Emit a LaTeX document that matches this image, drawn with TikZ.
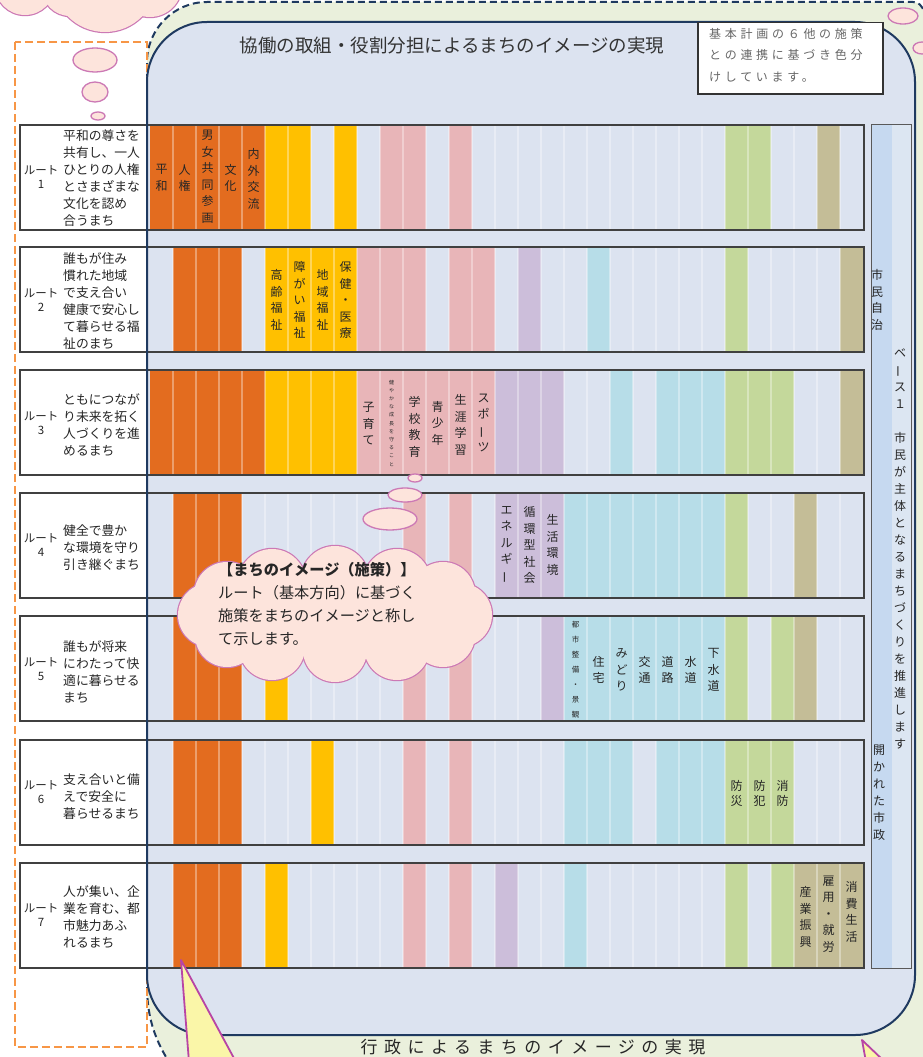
\documentclass[tikz,border=0pt]{standalone}
\usepackage{fontspec}
\newfontfamily\jp{Noto Sans CJK JP}
\definecolor{co}{HTML}{E36C1F}
\definecolor{cy}{HTML}{FFC000}
\definecolor{cp}{HTML}{E8B5B8}
\definecolor{cv}{HTML}{CCBEDA}
\definecolor{cb}{HTML}{B7DDE8}
\definecolor{cg}{HTML}{C4D89B}
\definecolor{ct}{HTML}{C4BD97}
\definecolor{innerbg}{HTML}{DCE3F0}
\definecolor{outerbg}{HTML}{EAF0DC}
\definecolor{navy}{HTML}{1F3A60}
\definecolor{cloudfill}{HTML}{FDE4DC}
\definecolor{cloudline}{HTML}{CC79B5}
\definecolor{callfill}{HTML}{FAF6A8}
\definecolor{callline}{HTML}{B845A5}
\definecolor{dashor}{HTML}{F79646}
\definecolor{basel}{HTML}{C6D9F0}
\definecolor{baser}{HTML}{DCE6F2}
\definecolor{txt}{HTML}{262626}
\newcommand\vbar{\rotatebox[origin=c]{90}{ー}}
\newcommand\rowstripes[2]{\foreach \c/\k in {#2}{\fill[\k] ({150+23*\c},#1) rectangle ({173+23*\c},{#1+105});}}
\newcommand\rowframe[1]{%
  \foreach \i in {1,...,30}{\draw[sepline] ({150+23*\i},#1) -- ({150+23*\i},{#1+105});}
  \draw[rowline] (20,#1) rectangle (864,{#1+105});}
\begin{document}
\begin{tikzpicture}[x=1pt,y=-1pt,
  rowline/.style={draw=black!75,line width=1.3pt},
  sepline/.style={draw=white,opacity=0.35,line width=1.2pt},
  vt/.style={align=center,inner sep=0pt,text=txt,font=\jp\fontsize{12}{16.5}\selectfont},
  vtsmall/.style={align=center,inner sep=0pt,text=txt,font=\jp\fontsize{7.5}{15}\selectfont},
  vttiny/.style={align=center,inner sep=0pt,text=txt,font=\jp\fontsize{5}{8.2}\selectfont},
  lefttext/.style={align=left,inner sep=0pt,text=txt,anchor=west,font=\jp\fontsize{12.8}{17}\selectfont},
  routelab/.style={align=center,inner sep=0pt,text=txt,font=\jp\fontsize{11.5}{14}\selectfont},
  cloudborder/.style={draw=cloudline,line width=2.4pt},
  cloudbody/.style={fill=cloudfill},
  callout/.style={fill=callfill,draw=callline,line width=1.8pt,line join=round}]
\useasboundingbox (0,0) rectangle (923,1057);
\clip (0,0) rectangle (923,1057);
\fill[white] (0,0) rectangle (923,1057);
% outer region
\fill[outerbg] (147,985) -- (147,62) .. controls (147,29) and (174,2) .. (207,2) -- (913,2) .. controls (918,2) and (922,5) .. (923,10) -- (935,10) -- (935,1075) -- (178,1075) .. controls (156,1045) and (147,1020) .. (147,985) -- cycle;
\draw[navy,line width=2pt,dash pattern=on 7pt off 4pt] (178,1075) .. controls (156,1045) and (147,1020) .. (147,985) -- (147,62) .. controls (147,29) and (174,2) .. (207,2) -- (913,2) .. controls (918,2) and (922,5) .. (924,12);
% top-left cloud
\foreach \x/\y/\r in {25/-15/30,70/-12/28,105/-20/52,150/-15/32}{\draw[cloudborder] (\x,\y) circle[radius=\r pt];}
\foreach \x/\y/\r in {25/-15/30,70/-12/28,105/-20/52,150/-15/32}{\fill[cloudbody] (\x,\y) circle[radius=\r pt];}
\filldraw[fill=cloudfill,draw=cloudline,line width=1.3pt] (95,60) ellipse[x radius=22pt,y radius=12pt];
\filldraw[fill=cloudfill,draw=cloudline,line width=1.3pt] (95,92) ellipse[x radius=13pt,y radius=10pt];
\filldraw[fill=cloudfill,draw=cloudline,line width=1.3pt] (98,116) ellipse[x radius=7pt,y radius=4pt];
% top-right bubbles
\filldraw[fill=cloudfill,draw=cloudline,line width=1.3pt] (903,16) ellipse[x radius=15pt,y radius=8pt];
\filldraw[fill=cloudfill,draw=cloudline,line width=1.3pt] (922,48) ellipse[x radius=9pt,y radius=6pt];
% orange dashed frame
\draw[dashor,line width=2pt,dash pattern=on 8pt off 4pt] (15,42) rectangle (147,1047);
% inner box
\fill[innerbg,rounded corners=60pt] (147,22) rectangle (915,1035);
% rows
\foreach \t in {125,247,370,493,616,740,863}{\fill[white] (20,\t) rectangle (147,{\t+105});}
\rowstripes{125}{0/co,1/co,2/co,3/co,4/co,5/cy,6/cy,8/cy,10/cp,11/cp,13/cp,25/cg,26/cg,29/ct}
\rowstripes{247}{1/co,2/co,3/co,5/cy,6/cy,7/cy,8/cy,9/cp,10/cp,11/cp,13/cp,14/cp,16/cv,19/cb,25/cg,30/ct}
\rowstripes{370}{0/co,1/co,2/co,3/co,4/co,5/cy,6/cy,7/cy,8/cy,9/cp,10/cp,11/cp,12/cp,13/cp,14/cp,15/cv,16/cv,17/cv,20/cb,22/cb,23/cb,24/cb,25/cg,26/cg,27/cg,30/ct}
\rowstripes{493}{1/co,2/co,3/co,11/cp,13/cp,15/cv,16/cv,17/cv,18/cb,19/cb,20/cb,21/cb,22/cb,23/cb,24/cb,25/cg,28/ct}
\rowstripes{616}{1/co,2/co,3/co,5/cy,11/cp,13/cp,17/cv,18/cb,19/cb,20/cb,21/cb,22/cb,23/cb,24/cb,25/cg,27/cg,28/ct}
\rowstripes{740}{1/co,2/co,3/co,7/cy,11/cp,13/cp,18/cb,19/cb,20/cb,22/cb,23/cb,24/cb,25/cg,26/cg,27/cg}
\rowstripes{863}{1/co,2/co,3/co,5/cy,11/cp,13/cp,15/cv,18/cb,25/cg,27/cg,28/ct,29/ct,30/ct}
\foreach \t in {125,247,370,493,616,740,863}{\rowframe{\t}}
% inner box border over rows
\draw[navy,line width=2pt,rounded corners=60pt] (147,22) rectangle (915,1035);
% base box
\fill[basel] (871,124) rectangle (892,968);
\fill[baser] (892,124) rectangle (911,968);
\draw[black!65,line width=1pt] (871,124) rectangle (911,968);
\node[vt] (b1) at (877,300) {市\\民\\自\\治};
\node[vt,font=\jp\fontsize{12}{17}\selectfont] (b2) at (900,549) {ベ\\\vbar\\ス\\１\\\strut\\市\\民\\が\\主\\体\\と\\な\\る\\ま\\ち\\づ\\く\\り\\を\\推\\進\\し\\ま\\す};
\node[vt,font=\jp\fontsize{12}{17}\selectfont] (b3) at (879,793) {開\\か\\れ\\た\\市\\政};
% note box and title
\node[draw=black!80,line width=1.5pt,fill=white,minimum width=185pt,minimum height=71pt,anchor=north west,inner sep=0pt] (notebox) at (697,22) {};
\node[anchor=north west,align=left,inner sep=0pt,text=black!60,font=\jp\fontsize{12}{21.5}\selectfont\addfontfeatures{LetterSpace=31}] (note) at (709,28) {基本計画の６他の施策\\との連携に基づき色分\\けしています。};
\node[text=black!80,font=\jp\fontsize{18.5}{20}\selectfont,inner sep=0pt] (title) at (452,46) {協働の取組・役割分担によるまちのイメージの実現};
% left labels
\foreach \n/\y in {1/177.5,2/300,3/423,4/545.5,5/669,6/792.5,7/915.5}{\node[routelab] (rl\n) at (41,\y) {ルート\\\n};}
\node[lefttext] (t1) at (63,178.5) {平和の尊さを\\共有し、一人\\ひとりの人権\\とさまざまな\\文化を認め\\合うまち};
\node[lefttext] (t2) at (63,301) {誰もが住み\\慣れた地域\\で支え合い\\健康で安心し\\て暮らせる福\\祉のまち};
\node[lefttext] (t3) at (63,425) {ともにつなが\\り未来を拓く\\人づくりを進\\めるまち};
\node[lefttext] (t4) at (63,548) {健全で豊か\\な環境を守り\\引き継ぐまち};
\node[lefttext] (t5) at (63,672) {誰もが将来\\にわたって快\\適に暮らせる\\まち};
\node[lefttext] (t6) at (63,797) {支え合いと備\\えで安全に\\暮らせるまち};
\node[lefttext] (t7) at (63,917) {人が集い、企\\業を育む、都\\市魅力あふ\\れるまち};
% column texts
\node[vt] (c1a) at (161.5,178) {平\\和};
\node[vt] (c1b) at (184.5,178) {人\\権};
\node[vt] (c1c) at (207.5,177) {男\\女\\共\\同\\参\\画};
\node[vt] (c1d) at (230.5,178) {文\\化};
\node[vt] (c1e) at (253.5,179) {内\\外\\交\\流};
\node[vt] (c2a) at (276.5,300) {高\\齢\\福\\祉};
\node[vt] (c2b) at (299.5,300) {障\\が\\い\\福\\祉};
\node[vt] (c2c) at (322.5,300) {地\\域\\福\\祉};
\node[vt] (c2d) at (345.5,300) {保\\健\\・\\医\\療};
\node[vt] (c3a) at (368.5,424) {子\\育\\て};
\node[vttiny] (c3b) at (391.5,423) {健\\や\\か\\な\\成\\長\\を\\守\\る\\こ\\と};
\node[vt] (c3c) at (414.5,427) {学\\校\\教\\育};
\node[vt] (c3d) at (437.5,423) {青\\少\\年};
\node[vt] (c3e) at (460.5,425) {生\\涯\\学\\習};
\node[vt] (c3f) at (483.5,423) {ス\\ポ\\\vbar\\ツ};
\node[vt] (c4a) at (506.5,545) {エ\\ネ\\ル\\ギ\\\vbar};
\node[vt] (c4b) at (529.5,545) {循\\環\\型\\社\\会};
\node[vt] (c4c) at (552.5,545) {生\\活\\環\\境};
\node[vtsmall] (c5a) at (575.5,670) {都\\市\\整\\備\\・\\景\\観};
\node[vt] (c5b) at (598.5,670) {住\\宅};
\node[vt] (c5c) at (621.5,670) {み\\ど\\り};
\node[vt] (c5d) at (644.5,670) {交\\通};
\node[vt] (c5e) at (667.5,670) {道\\路};
\node[vt] (c5f) at (690.5,670) {水\\道};
\node[vt] (c5g) at (713.5,670) {下\\水\\道};
\node[vt,font=\jp\fontsize{12}{15}\selectfont] (c6a) at (736.5,793) {防\\災};
\node[vt,font=\jp\fontsize{12}{15}\selectfont] (c6b) at (759.5,793) {防\\犯};
\node[vt,font=\jp\fontsize{12}{15}\selectfont] (c6c) at (782.5,793) {消\\防};
\node[vt] (c7a) at (805.5,917) {産\\業\\振\\興};
\node[vt] (c7b) at (828.5,914) {雇\\用\\・\\就\\労};
\node[vt] (c7c) at (851.5,912) {消\\費\\生\\活};
% main cloud
\foreach \x/\y/\r in {460/615/32,443/594/32,397/583/34,335/580/34,272/583/34,227/595/33,210/615/32,227/635/32,272/647/33,335/650/32,397/647/33,443/635/32}{\draw[cloudborder] (\x,\y) circle[radius=\r pt];}
\foreach \x/\y/\r in {460/615/32,443/594/32,397/583/34,335/580/34,272/583/34,227/595/33,210/615/32,227/635/32,272/647/33,335/650/32,397/647/33,443/635/32}{\fill[cloudbody] (\x,\y) circle[radius=\r pt];}
\fill[cloudbody] (335,615) ellipse[x radius=130pt,y radius=40pt];
\filldraw[fill=cloudfill,draw=cloudline,line width=1.3pt] (390,519) ellipse[x radius=27pt,y radius=11pt];
\filldraw[fill=cloudfill,draw=cloudline,line width=1.3pt] (405,495) ellipse[x radius=17pt,y radius=7pt];
\filldraw[fill=cloudfill,draw=cloudline,line width=1.3pt] (415,478) ellipse[x radius=7pt,y radius=4pt];
\node[anchor=north west,align=left,inner sep=0pt,text=txt,font=\jp\fontsize{15.2}{23}\selectfont] (cloudtext) at (218,562) {{\bfseries 【まちのイメージ（施策）】}\\ルート（基本方向）に基づく\\施策をまちのイメージと称し\\て示します。};
% callouts
\filldraw[callout] (181,960) -- (189,1062) -- (236,1062) -- cycle;
\filldraw[callout] (862,1040) -- (885,1062) -- (866,1062) -- cycle;
\node[text=black!85,font=\jp\fontsize{17}{18}\selectfont\addfontfeatures{LetterSpace=38},inner sep=0pt,anchor=north] (bottom) at (533,1038.5) {行政によるまちのイメージの実現};
\end{tikzpicture}
\end{document}
